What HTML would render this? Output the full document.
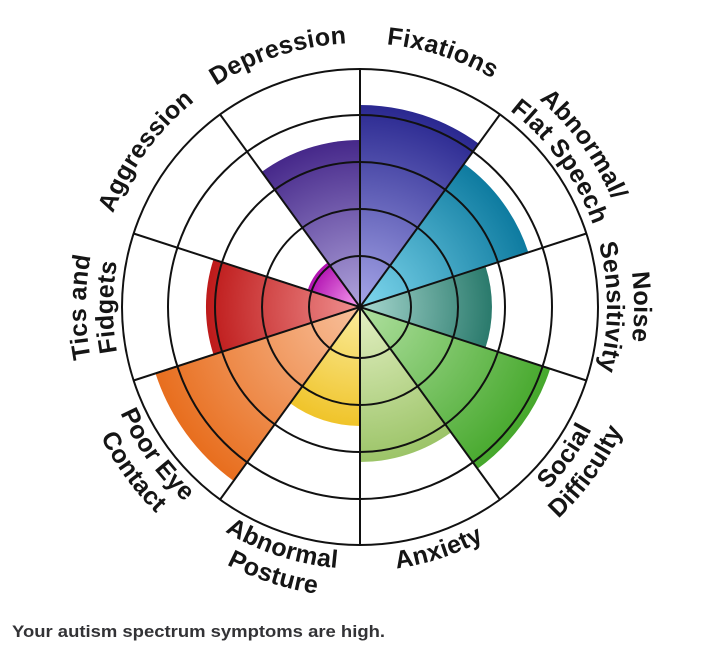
<!DOCTYPE html>
<html><head><meta charset="utf-8"><style>
html,body{margin:0;padding:0;background:#fff;}
svg{display:block;}
text{font-family:"Liberation Sans",sans-serif;font-weight:bold;}
</style></head><body>
<svg width="708" height="647" viewBox="0 0 708 647" xmlns="http://www.w3.org/2000/svg">
<defs>
<radialGradient id="g1" gradientUnits="userSpaceOnUse" cx="360" cy="307" r="202"><stop offset="0" stop-color="#a6a6e8"/><stop offset="1" stop-color="#2a2890"/></radialGradient>
<radialGradient id="g2" gradientUnits="userSpaceOnUse" cx="360" cy="307" r="177"><stop offset="0" stop-color="#80d8ee"/><stop offset="1" stop-color="#0e7ba0"/></radialGradient>
<radialGradient id="g3" gradientUnits="userSpaceOnUse" cx="360" cy="307" r="132"><stop offset="0" stop-color="#a8d8d0"/><stop offset="1" stop-color="#2a7a6c"/></radialGradient>
<radialGradient id="g4" gradientUnits="userSpaceOnUse" cx="360" cy="307" r="200"><stop offset="0" stop-color="#b0e0a0"/><stop offset="1" stop-color="#46a82c"/></radialGradient>
<radialGradient id="g5" gradientUnits="userSpaceOnUse" cx="360" cy="307" r="155"><stop offset="0" stop-color="#e4f0c4"/><stop offset="1" stop-color="#9cc468"/></radialGradient>
<radialGradient id="g6" gradientUnits="userSpaceOnUse" cx="360" cy="307" r="119"><stop offset="0" stop-color="#faec9c"/><stop offset="1" stop-color="#f0c42a"/></radialGradient>
<radialGradient id="g7" gradientUnits="userSpaceOnUse" cx="360" cy="307" r="215"><stop offset="0" stop-color="#f8c09c"/><stop offset="1" stop-color="#e86e1e"/></radialGradient>
<radialGradient id="g8" gradientUnits="userSpaceOnUse" cx="360" cy="307" r="154"><stop offset="0" stop-color="#f09090"/><stop offset="1" stop-color="#be1a1a"/></radialGradient>
<radialGradient id="g9" gradientUnits="userSpaceOnUse" cx="360" cy="307" r="55"><stop offset="0" stop-color="#f8a0f0"/><stop offset="1" stop-color="#b010b0"/></radialGradient>
<radialGradient id="g10" gradientUnits="userSpaceOnUse" cx="360" cy="307" r="167"><stop offset="0" stop-color="#b0a4dc"/><stop offset="1" stop-color="#46288a"/></radialGradient>
<path id="cw247" d="M360,554 A247,247 0 1 1 360,60 A247,247 0 1 1 360,554"/>
<path id="cw264" d="M360,571 A264,264 0 1 1 360,43 A264,264 0 1 1 360,571"/>
<path id="cw274" d="M360,581 A274,274 0 1 1 360,33 A274,274 0 1 1 360,581"/>
<path id="ccw262" d="M360,45 A262,262 0 1 0 360,569 A262,262 0 1 0 360,45"/>
<path id="ccw264" d="M360,43 A264,264 0 1 0 360,571 A264,264 0 1 0 360,43"/>
<path id="ccw290" d="M360,17 A290,290 0 1 0 360,597 A290,290 0 1 0 360,17"/>
</defs>

<path d="M360,307 L360,105 A202,202 0 0 1 478.7,143.6 Z" fill="url(#g1)"/>
<path d="M360,307 L464,163.8 A177,177 0 0 1 528.3,252.3 Z" fill="url(#g2)"/>
<path d="M360,307 L485.5,266.2 A132,132 0 0 1 485.5,347.8 Z" fill="url(#g3)"/>
<path d="M360,307 L550.2,368.8 A200,200 0 0 1 477.6,468.8 Z" fill="url(#g4)"/>
<path d="M360,307 L451.1,432.4 A155,155 0 0 1 360,462 Z" fill="url(#g5)"/>
<path d="M360,307 L360,426 A119,119 0 0 1 290.1,403.3 Z" fill="url(#g6)"/>
<path d="M360,307 L233.6,480.9 A215,215 0 0 1 155.5,373.4 Z" fill="url(#g7)"/>
<path d="M360,307 L213.5,354.6 A154,154 0 0 1 213.5,259.4 Z" fill="url(#g8)"/>
<path d="M360,307 L307.7,290 A55,55 0 0 1 327.7,262.5 Z" fill="url(#g9)"/>
<path d="M360,307 L261.8,171.9 A167,167 0 0 1 360,140 Z" fill="url(#g10)"/>

<g fill="none" stroke="#111" stroke-width="2">
<circle cx="360" cy="307" r="51"/>
<circle cx="360" cy="307" r="98"/>
<circle cx="360" cy="307" r="145"/>
<circle cx="360" cy="307" r="192"/>
<circle cx="360" cy="307" r="238"/>
<line x1="360" y1="69" x2="360" y2="545"/>
<line x1="499.9" y1="114.5" x2="220.1" y2="499.5"/>
<line x1="586.4" y1="233.5" x2="133.6" y2="380.5"/>
<line x1="586.4" y1="380.5" x2="133.6" y2="233.5"/>
<line x1="499.9" y1="499.5" x2="220.1" y2="114.5"/>
</g>

<g font-size="25" fill="#151515" text-anchor="middle" letter-spacing="0.3">
<text><textPath href="#cw264" startOffset="45%">Depression</textPath></text>
<text><textPath href="#cw264" startOffset="55%">Fixations</textPath></text>
<text><textPath href="#cw264" startOffset="35%">Aggression</textPath></text>
<text><textPath href="#cw274" startOffset="65%">Abnormal/</textPath></text>
<text><textPath href="#cw247" startOffset="65%">Flat Speech</textPath></text>
<text><textPath href="#cw274" startOffset="75%">Noise</textPath></text>
<text><textPath href="#cw247" startOffset="75%">Sensitivity</textPath></text>
<text><textPath href="#cw274" startOffset="25%">Tics and</textPath></text>
<text><textPath href="#cw247" startOffset="25%">Fidgets</textPath></text>
<text><textPath href="#ccw264" startOffset="55%">Anxiety</textPath></text>
<text><textPath href="#ccw262" startOffset="65%">Social</textPath></text>
<text><textPath href="#ccw290" startOffset="65%">Difficulty</textPath></text>
<text><textPath href="#ccw262" startOffset="45%">Abnormal</textPath></text>
<text><textPath href="#ccw290" startOffset="45%">Posture</textPath></text>
<text><textPath href="#ccw262" startOffset="35%">Poor Eye</textPath></text>
<text><textPath href="#ccw290" startOffset="35%">Contact</textPath></text>
</g>

<text x="12" y="637" font-size="17" fill="#333336" textLength="373" lengthAdjust="spacingAndGlyphs">Your autism spectrum symptoms are high.</text>
</svg>
</body></html>
